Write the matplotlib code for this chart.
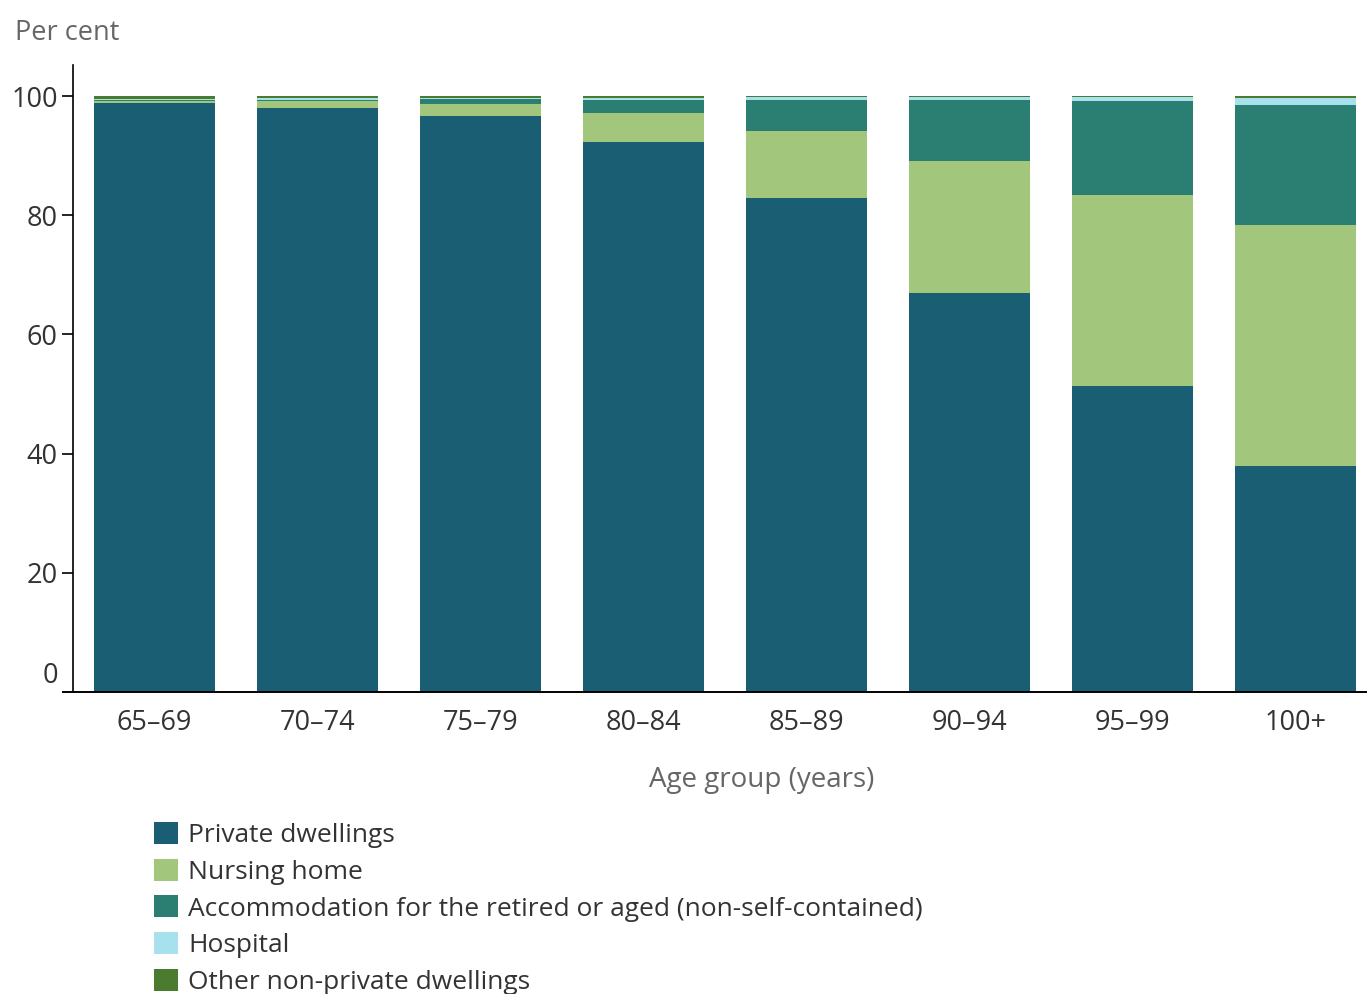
import numpy as np
import matplotlib
matplotlib.use('Agg')
import matplotlib.pyplot as plt
import matplotlib.transforms as mtransforms
from matplotlib.patches import Patch

# data (per cent of people in each age group)
ages = ['65–69', '70–74', '75–79', '80–84', '85–89', '90–94', '95–99', '100+']
private = [98.9, 98.0, 96.6, 92.2, 82.9, 66.9, 51.3, 37.9]
nursing = [0.3, 1.2, 2.0, 5.0, 11.3, 22.2, 32.1, 40.5]
accomm = [0.1, 0.2, 0.9, 2.2, 5.1, 10.2, 15.8, 20.1]
hospital = [0.2, 0.2, 0.2, 0.3, 0.5, 0.5, 0.6, 1.1]
other = [0.5, 0.4, 0.3, 0.3, 0.2, 0.2, 0.2, 0.4]

series = [private, nursing, accomm, hospital, other]
names = ['Private dwellings', 'Nursing home',
         'Accommodation for the retired or aged (non-self-contained)',
         'Hospital', 'Other non-private dwellings']
colors = ['#1a5e73', '#a2c67b', '#2a7f72', '#a8e1ee', '#4a7b2f']

plt.rcParams['font.family'] = ['Open Sans', 'DejaVu Sans']

fig = plt.figure(figsize=(13.67, 9.94), dpi=100)
ax = fig.add_axes([0.0534, 0.3038, 0.9466, 0.6308])

x = np.arange(len(ages))
bottom = np.zeros(len(ages))
for vals, c in zip(series, colors):
    ax.bar(x, vals, 0.74, bottom=bottom, color=c, linewidth=0)
    bottom += np.array(vals)

ax.set_xlim(-0.5, 7.44)
ax.set_ylim(0, 105.2)
ax.set_yticks([0, 20, 40, 60, 80, 100])
ax.set_xticks(x)
ax.set_xticklabels(ages)
ax.tick_params(axis='x', length=0, pad=12, labelsize=19.5, labelcolor='#333333')
ax.tick_params(axis='y', length=8, width=1.2, pad=3, labelsize=19.5, labelcolor='#333333')

for s in ['top', 'right']:
    ax.spines[s].set_visible(False)
ax.spines['left'].set_linewidth(1.2)
ax.spines['bottom'].set_linewidth(1.4)
ax.spines['bottom'].set_bounds(-0.562, 7.44)
ax.yaxis.get_major_ticks()[0].tick1line.set_visible(False)

# lift the "0" label
lab0 = ax.get_yticklabels()[0]
lab0.set_transform(lab0.get_transform() + mtransforms.ScaledTranslation(0, 0.2, fig.dpi_scale_trans))

fig.text(0.011, 0.967, 'Per cent', fontsize=19.5, color='#666666', va='center')
fig.text(0.557, 0.215, 'Age group (years)', fontsize=20, color='#666666', ha='center', va='center')

handles = [Patch(facecolor=c, edgecolor='none') for c in colors]
fig.legend(handles, names, loc='upper left', bbox_to_anchor=(0.1127, 0.173),
           frameon=False, fontsize=19, labelcolor='#333333',
           handlelength=0.91, handleheight=0.91, handletextpad=0.38,
           labelspacing=0.40, borderaxespad=0, borderpad=0)

fig.savefig('out.png', dpi=100)
